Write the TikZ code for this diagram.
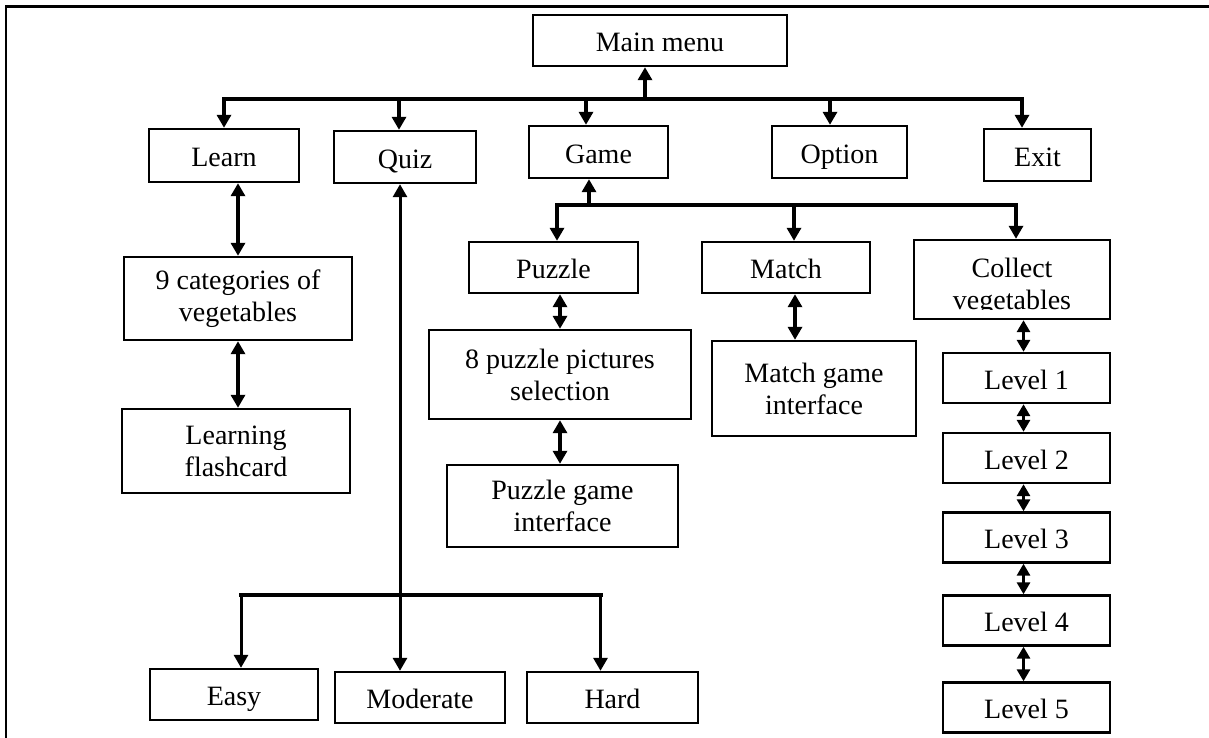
\documentclass[tikz,border=0pt]{standalone}
\usepackage{fontspec}
\setmainfont{Liberation Serif}
\usetikzlibrary{positioning,arrows.meta,calc}

\begin{document}
\begin{tikzpicture}[x=0.5pt, y=-0.5pt,
  font=\fontsize{14}{16}\selectfont,
  box/.style={rectangle, draw, line width=1.2pt, align=center, inner sep=0pt},
  one/.style={box, text height=11.3pt, text depth=0pt},
  link/.style={line width=2pt, -{Triangle[length=6.5pt,width=7pt]}},
  both/.style={line width=2pt, {Triangle[length=6.5pt,width=7pt]}-{Triangle[length=6.5pt,width=7pt]}},
  small/.style={line width=1.5pt, {Triangle[length=6pt,width=6.5pt]}-{Triangle[length=6pt,width=6.5pt]}}]
  \useasboundingbox (0,0) rectangle (1209,738);
  % frame
  \draw[line width=1.5pt] (5,7) -- (1209,7);
  \draw[line width=1pt] (6,7) -- (6,738);
  % top level
  \node[one, minimum width=127pt, minimum height=25.5pt] (menu) at (660,40.5) {Main menu};
  \node[one, minimum width=75pt, minimum height=26.5pt] (learn) at (224,155.5) {Learn};
  \node[one, minimum width=71pt, minimum height=26pt] (quiz) at (405,157) {Quiz};
  \node[one, minimum width=69.5pt, minimum height=26pt] (game) at (598.5,152) {Game};
  \node[one, minimum width=67.5pt, minimum height=26pt] (option) at (839.5,152) {Option};
  \node[one, minimum width=53.5pt, minimum height=26pt] (exit) at (1037.5,155) {Exit};
  % learn branch
  \node[box, minimum width=114pt, minimum height=41.5pt] (cats) at (238,298.5) {9 categories of\\vegetables};
  \node[box, minimum width=114pt, minimum height=42pt] (cards) at (236,451) {Learning\\flashcard};
  % game branch
  \node[one, minimum width=84.5pt, minimum height=25.5pt] (puzzle) at (553.5,267.5) {Puzzle};
  \node[one, minimum width=84pt, minimum height=25.5pt] (match) at (786,267.5) {Match};
  \node[box, minimum width=98pt, minimum height=39.5pt,
        path picture={\clip ([yshift=5pt]path picture bounding box.south west) rectangle (path picture bounding box.north east);
                      \node[align=center] (collecttext) at ([yshift=-3.5pt]path picture bounding box.center) {Collect\\vegetables};}]
        (collect) at (1012,279.5) {};
  \node[box, minimum width=131pt, minimum height=44.5pt] (pics) at (560,374.5) {8 puzzle pictures\\selection};
  \node[box, minimum width=115.5pt, minimum height=41pt] (pgame) at (562.5,506) {Puzzle game\\interface};
  \node[box, minimum width=102pt, minimum height=47.5pt] (mgame) at (814,388.5) {Match game\\interface};
  \foreach \i/\y in {1/378,2/458,3/537.5,4/620.5,5/707.5}
    \node[one, minimum width=83.5pt, minimum height=25pt] (lv\i) at (1026.5,\y) {Level \i};
  % quiz branch
  \node[one, minimum width=84pt, minimum height=25.5pt] (easy) at (234,694.5) {Easy};
  \node[one, minimum width=85pt, minimum height=25.5pt] (moderate) at (420,697.5) {Moderate};
  \node[one, minimum width=85.5pt, minimum height=25.5pt] (hard) at (612.5,697.5) {Hard};

  % connectors
  \coordinate (top) at (645,99);
  \draw[link] (top) -- (menu.south -| top);
  \draw[both] (learn.north) |- (top) -| ([xshift=-7.75pt]exit.north);
  \foreach \n/\s in {quiz/-3pt, game/-6.25pt, option/-4.75pt}
    \draw[link] ([xshift=\s]\n.north |- top) -- ([xshift=\s]\n.north);
  \draw[both] (cats.north |- learn.south) -- (cats.north);
  \draw[both] (cats.south) -- (cats.south |- cards.north);
  \coordinate (sub) at (589,205);
  \draw[link] (sub) -- (game.south -| sub);
  \draw[both] ([xshift=1.75pt]puzzle.north) |- (sub) -| ([xshift=2pt]collect.north);
  \draw[link] ([xshift=4pt]match.north |- sub) -- ([xshift=4pt]match.north);
  \draw[both] (pics.north |- puzzle.south) -- (pics.north);
  \draw[both] (pics.south) -- (pics.south |- pgame.north);
  \draw[both] ([xshift=4.5pt]match.south) -- ([xshift=4.5pt]match.south |- mgame.north);
  \draw[small] ([xshift=-1.5pt]lv1.north |- collect.south) -- ([xshift=-1.5pt]lv1.north);
  \foreach \i/\j in {1/2,2/3,3/4,4/5}
    \draw[small] ([xshift=-1.5pt]lv\i.south) -- ([xshift=-1.5pt]lv\j.north);
  \coordinate (lvl) at (400,595);
  \draw[both, line width=1.5pt] ([xshift=-2.5pt]quiz.south) -- ([xshift=-2.5pt]quiz.south |- moderate.north);
  \draw[line width=2pt, line cap=rect] ([xshift=3.5pt]easy.north |- lvl) -- ([xshift=-6pt]hard.north |- lvl);
  \foreach \n/\s in {easy/3.5pt, hard/-6pt}
    \draw[link, line width=1.5pt] ([xshift=\s]\n.north |- lvl) -- ([xshift=\s]\n.north);
\end{tikzpicture}
\end{document}
